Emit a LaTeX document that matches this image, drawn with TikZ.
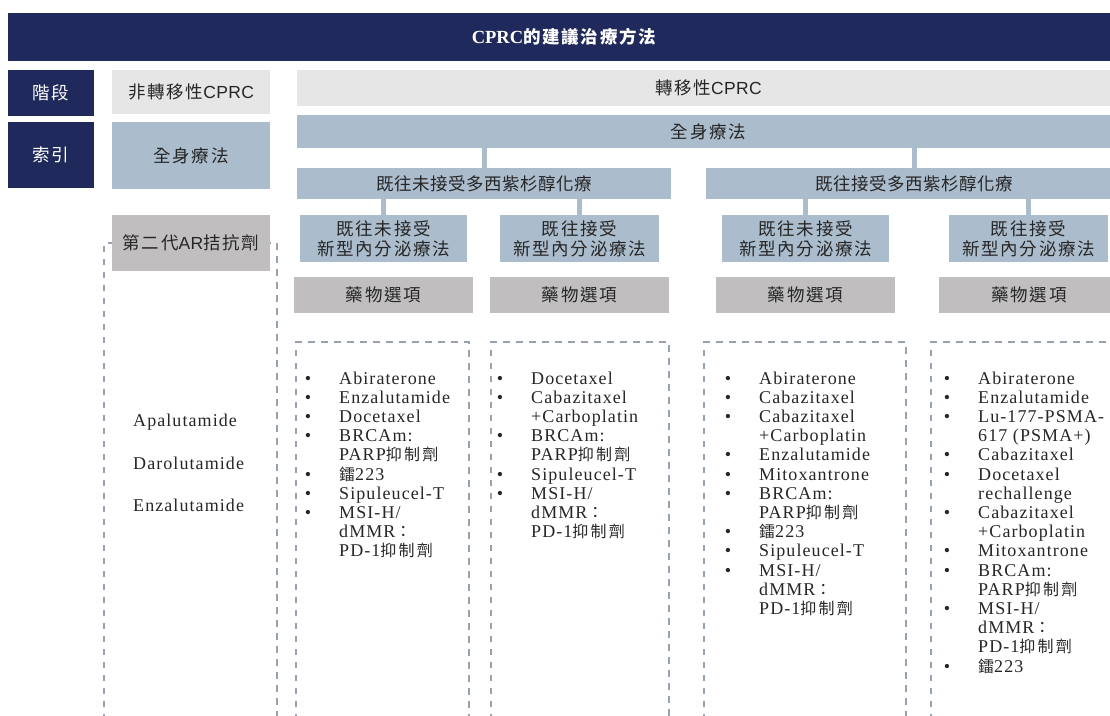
\documentclass[tikz,border=0pt]{standalone}
\usepackage{fontspec}
\setmainfont{Liberation Serif}
\setsansfont{Liberation Sans}
\newfontfamily\cjk[LetterSpace=10]{Noto Sans CJK TC}
\newfontfamily\cjkn[LetterSpace=3]{Noto Sans CJK TC}
\newfontfamily\cjkl[LetterSpace=14]{Noto Sans CJK TC}
\newfontfamily\drugfont[LetterSpace=6]{Liberation Serif}
\newfontfamily\latsans[LetterSpace=2]{Liberation Sans}
\definecolor{cnavy}{HTML}{1F295B}
\definecolor{cblue}{HTML}{ABBCCD}
\definecolor{clight}{HTML}{E6E6E6}
\definecolor{cmid}{HTML}{C0BEBF}
\definecolor{cdash}{HTML}{98A1AE}
\definecolor{ctxt}{HTML}{262626}
\newcommand\cjl[1]{{\cjkl\fontsize{16}{19}\selectfont #1}}
\newcommand\ls[1]{{\latsans #1}}
\newcommand\bx[7]{\node[#6, minimum width={(#4-#2)*1pt}, minimum height={(#5-#3)*1pt}] (#1) at ({(#2+#4)/2},{(#3+#5)/2}) {#7};}
\newcount\dlcount
\newcommand\druglist[3]{\def\dlbx{#1}\def\dltx{#2}\def\dlpre{#3}\global\dlcount=0\relax}
\newcommand\dlitem[1]{\node[bul] (\dlpre b\the\dlcount) at (\dlbx,{384+19.2*\the\dlcount}) {•};\dlcont{#1}}
\newcommand\dlcont[1]{\node[drug] (\dlpre t\the\dlcount) at (\dltx,{384+19.2*\the\dlcount}) {#1};\global\advance\dlcount by 1\relax}
\tikzset{
 box/.style={inner sep=0pt, outer sep=0pt, align=center, text=ctxt, font=\cjk\fontsize{17.5}{20}\selectfont},
 navybox/.style={box, fill=cnavy, text=white},
 lightbox/.style={box, fill=clight},
 bluebox/.style={box, fill=cblue},
 midbox/.style={box, fill=cmid},
 wideblue/.style={bluebox, font=\cjkn\fontsize{17.5}{20}\selectfont},
 conn/.style={draw=cblue, line width=5pt},
 dashcol/.style={draw=cdash, line width=1.2pt, dash pattern=on 6.5pt off 6.5pt},
 drug/.style={anchor=base west, inner sep=0pt, text=ctxt, font=\drugfont\fontsize{18}{19}\selectfont},
 bul/.style={anchor=base, inner sep=0pt, text=ctxt, font=\drugfont\fontsize{18}{19}\selectfont},
}
\begin{document}
\begin{tikzpicture}[x=1pt,y=-1pt]
\useasboundingbox (0,0) rectangle (1110,715);
\clip (0,0) rectangle (1110,715);
% dashed columns
\draw[dashcol] (104,720) -- (104,243) -- (277,243) -- (277,720);
\draw[dashcol] (296,720) -- (296,342) -- (469,342) -- (469,720);
\draw[dashcol] (491,720) -- (491,342) -- (669,342) -- (669,720);
\draw[dashcol] (704,720) -- (704,342) -- (906,342) -- (906,720);
\draw[dashcol] (931,720) -- (931,342) -- (1133,342) -- (1133,720);
% boxes
\bx{banner}{8}{13}{1120}{61}{navybox}{{\rmfamily\bfseries\fontsize{18.5}{20}\selectfont CPRC}\bfseries 的建議治療方法}
\bx{stage}{8}{70}{94}{116}{navybox}{階段}
\bx{nonmet}{112}{70}{270}{114}{lightbox}{非轉移性\ls{CPRC}}
\bx{met}{297}{70}{1120}{106}{lightbox}{轉移性\ls{CPRC}}
\bx{index}{8}{122}{94}{188}{navybox}{索引}
\bx{sysL}{112}{122}{270}{189}{bluebox}{全身療法}
\bx{sysW}{297}{115}{1120}{148}{bluebox}{全身療法}
\bx{naive}{297}{168}{671}{199}{wideblue}{既往未接受多西紫杉醇化療}
\bx{prior}{706}{168}{1122}{199}{wideblue}{既往接受多西紫杉醇化療}
\bx{arsi}{112}{215}{270}{271}{midbox}{第二代\ls{AR}拮抗劑}
\bx{s1}{300}{215}{467}{262}{bluebox}{既往未接受\\新型內分泌療法}
\bx{s2}{500}{215}{659}{262}{bluebox}{既往接受\\新型內分泌療法}
\bx{s3}{722}{215}{889}{262}{bluebox}{既往未接受\\新型內分泌療法}
\bx{s4}{949}{215}{1108}{262}{bluebox}{既往接受\\新型內分泌療法}
\bx{d1}{294}{277}{473}{313}{midbox}{藥物選項}
\bx{d2}{490}{277}{669}{313}{midbox}{藥物選項}
\bx{d3}{716}{277}{895}{313}{midbox}{藥物選項}
\bx{d4}{939}{277}{1119}{313}{midbox}{藥物選項}
% connectors
\draw[conn] (sysW.south -| naive.north) -- (naive.north);
\draw[conn] (sysW.south -| prior.north) -- (prior.north);
\draw[conn] (naive.south -| s1.north) -- (s1.north);
\draw[conn] (naive.south -| s2.north) -- (s2.north);
\draw[conn] (prior.south -| s3.north) -- (s3.north);
\draw[conn] (prior.south -| s4.north) -- (s4.north);
% left column drugs
\node[drug] (arsi1) at (133,426.7) {Apalutamide};
\node[drug] (arsi2) at (133,469.2) {Darolutamide};
\node[drug] (arsi3) at (133,511.7) {Enzalutamide};
% column 1
\druglist{308}{339}{ca}
\dlitem{Abiraterone}
\dlitem{Enzalutamide}
\dlitem{Docetaxel}
\dlitem{BRCAm:}
\dlcont{PARP\cjl{抑制劑}}
\dlitem{\cjl{鐳}223}
\dlitem{Sipuleucel-T}
\dlitem{MSI-H/}
\dlcont{dMMR\cjl{：}}
\dlcont{PD-1\cjl{抑制劑}}
% column 2
\druglist{500}{531}{cb}
\dlitem{Docetaxel}
\dlitem{Cabazitaxel}
\dlcont{+Carboplatin}
\dlitem{BRCAm:}
\dlcont{PARP\cjl{抑制劑}}
\dlitem{Sipuleucel-T}
\dlitem{MSI-H/}
\dlcont{dMMR\cjl{：}}
\dlcont{PD-1\cjl{抑制劑}}
% column 3
\druglist{728}{759}{cc}
\dlitem{Abiraterone}
\dlitem{Cabazitaxel}
\dlitem{Cabazitaxel}
\dlcont{+Carboplatin}
\dlitem{Enzalutamide}
\dlitem{Mitoxantrone}
\dlitem{BRCAm:}
\dlcont{PARP\cjl{抑制劑}}
\dlitem{\cjl{鐳}223}
\dlitem{Sipuleucel-T}
\dlitem{MSI-H/}
\dlcont{dMMR\cjl{：}}
\dlcont{PD-1\cjl{抑制劑}}
% column 4
\druglist{947}{978}{cd}
\dlitem{Abiraterone}
\dlitem{Enzalutamide}
\dlitem{Lu-177-PSMA-}
\dlcont{617 (PSMA+)}
\dlitem{Cabazitaxel}
\dlitem{Docetaxel}
\dlcont{rechallenge}
\dlitem{Cabazitaxel}
\dlcont{+Carboplatin}
\dlitem{Mitoxantrone}
\dlitem{BRCAm:}
\dlcont{PARP\cjl{抑制劑}}
\dlitem{MSI-H/}
\dlcont{dMMR\cjl{：}}
\dlcont{PD-1\cjl{抑制劑}}
\dlitem{\cjl{鐳}223}
\end{tikzpicture}
\end{document}
